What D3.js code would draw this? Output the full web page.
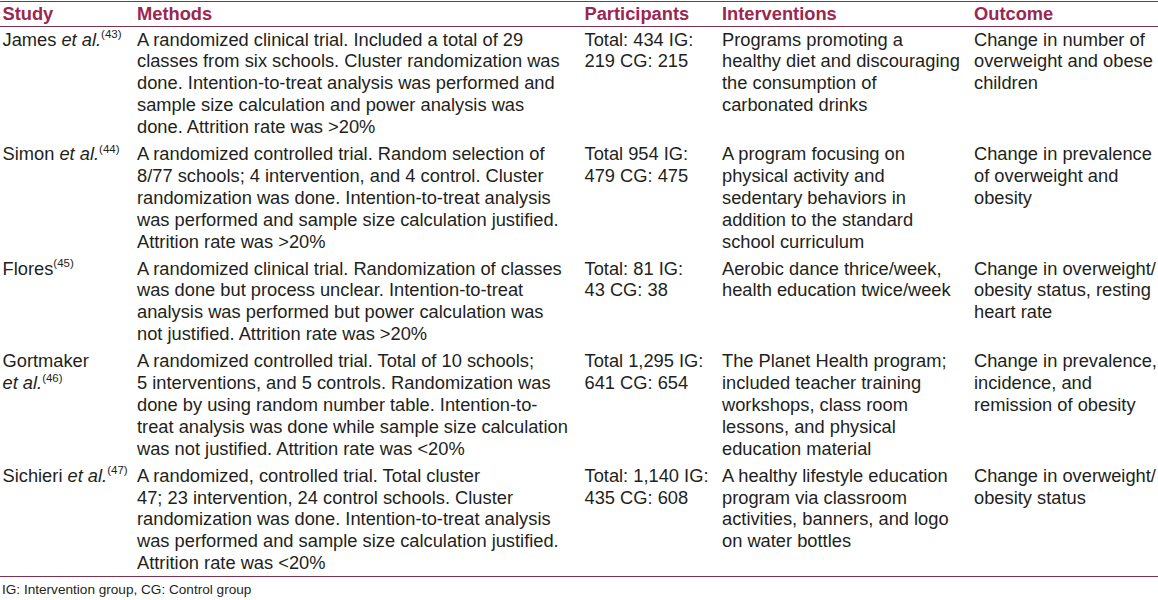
<!DOCTYPE html>
<html>
<head>
<meta charset="utf-8">
<script src="https://cdn.jsdelivr.net/npm/d3@7"></script>
<style>
  html, body { margin: 0; padding: 0; background: #ffffff; }
  svg { display: block; }
  text { font-family: "Liberation Sans", Arial, Helvetica, sans-serif; }
</style>
</head>
<body>
<svg id="chart" width="1158" height="600"></svg>
<script>
// ---- data ----
const headers = ["Study", "Methods", "Participants", "Interventions", "Outcome"];

// Study cell: name, whether "et al." follows, reference number, and whether "et al." wraps
const studyNames = ["James", "Simon", "Flores", "Gortmaker", "Sichieri"];
const studyEtAl = [true, true, false, true, true];
const studyRefs = ["43", "44", "45", "46", "47"];
const studyWrap = [false, false, false, true, false];

const methods = [
  ["A randomized clinical trial. Included a total of 29",
   "classes from six schools. Cluster randomization was",
   "done. Intention-to-treat analysis was performed and",
   "sample size calculation and power analysis was",
   "done. Attrition rate was >20%"],
  ["A randomized controlled trial. Random selection of",
   "8/77 schools; 4 intervention, and 4 control. Cluster",
   "randomization was done. Intention-to-treat analysis",
   "was performed and sample size calculation justified.",
   "Attrition rate was >20%"],
  ["A randomized clinical trial. Randomization of classes",
   "was done but process unclear. Intention-to-treat",
   "analysis was performed but power calculation was",
   "not justified. Attrition rate was >20%"],
  ["A randomized controlled trial. Total of 10 schools;",
   "5 interventions, and 5 controls. Randomization was",
   "done by using random number table. Intention-to-",
   "treat analysis was done while sample size calculation",
   "was not justified. Attrition rate was <20%"],
  ["A randomized, controlled trial. Total cluster",
   "47; 23 intervention, 24 control schools. Cluster",
   "randomization was done. Intention-to-treat analysis",
   "was performed and sample size calculation justified.",
   "Attrition rate was <20%"]
];

const participants = [
  ["Total: 434 IG:", "219 CG: 215"],
  ["Total 954 IG:", "479 CG: 475"],
  ["Total: 81 IG:", "43 CG: 38"],
  ["Total 1,295 IG:", "641 CG: 654"],
  ["Total: 1,140 IG:", "435 CG: 608"]
];

const interventions = [
  ["Programs promoting a", "healthy diet and discouraging", "the consumption of", "carbonated drinks"],
  ["A program focusing on", "physical activity and", "sedentary behaviors in", "addition to the standard", "school curriculum"],
  ["Aerobic dance thrice/week,", "health education twice/week"],
  ["The Planet Health program;", "included teacher training", "workshops, class room", "lessons, and physical", "education material"],
  ["A healthy lifestyle education", "program via classroom", "activities, banners, and logo", "on water bottles"]
];

const outcomes = [
  ["Change in number of", "overweight and obese", "children"],
  ["Change in prevalence", "of overweight and", "obesity"],
  ["Change in overweight/", "obesity status, resting", "heart rate"],
  ["Change in prevalence,", "incidence, and", "remission of obesity"],
  ["Change in overweight/", "obesity status"]
];

const footnote = "IG: Intervention group, CG: Control group";

// ---- layout ----
const W = 1158, H = 600;
const colStarts = [2.5, 137, 584.5, 722, 974];
const fontSize = 18.3;
const lineH = 21.9;
const rowExtra = 5;
const firstBaseline = 45.5;
const headerBaseline = 19.5;
const topRule = 1.5, headerRule = 26.5, bottomRule = 576.5;
const headColor = "#9b2650";
const ruleColor = "#84304f";
const textColor = "#231f20";

const svg = d3.select("#chart");
svg.append("rect").attr("width", W).attr("height", H).attr("fill", "#fff");

const x = d3.scaleOrdinal().domain(headers).range(colStarts);

// study cells as line arrays of segments
const studyCells = studyNames.map((n, i) => {
  const etal = studyEtAl[i] ? [{t: "et al.", it: true}] : [];
  const ref = [{t: "(" + studyRefs[i] + ")", sup: true}];
  if (studyWrap[i]) return [[{t: n}], etal.concat(ref)];
  return [[{t: n + (studyEtAl[i] ? " " : "")}].concat(etal, ref)];
});

const rows = studyNames.map((_, i) => ({
  cells: [
    studyCells[i],
    methods[i].map(s => [{t: s}]),
    participants[i].map(s => [{t: s}]),
    interventions[i].map(s => [{t: s}]),
    outcomes[i].map(s => [{t: s}])
  ]
}));
rows.forEach(r => r.n = d3.max(r.cells, c => c.length));

// cumulative line offsets
let acc = 0;
rows.forEach((r, i) => { r.startLine = acc; r.idx = i; acc += r.n; });

const yLine = d3.scaleLinear().domain([0, 1]).range([firstBaseline, firstBaseline + lineH]);
const rowY = (r, li) => yLine(r.startLine + li) + r.idx * rowExtra;

// rules
const rules = [topRule, headerRule, bottomRule];
svg.selectAll("line.rule").data(rules).join("line")
  .attr("class", "rule")
  .attr("x1", 0).attr("x2", W)
  .attr("y1", d => d).attr("y2", d => d)
  .attr("stroke", ruleColor).attr("stroke-width", 1.2);

// headers
svg.selectAll("text.head").data(headers).join("text")
  .attr("class", "head")
  .attr("x", d => x(d)).attr("y", headerBaseline)
  .attr("font-size", fontSize).attr("font-weight", "bold")
  .attr("fill", headColor)
  .text(d => d);

// body
const gRows = svg.selectAll("g.row").data(rows).join("g").attr("class", "row");
gRows.each(function(r) {
  const g = d3.select(this);
  r.cells.forEach((lines, ci) => {
    lines.forEach((segs, li) => {
      const t = g.append("text")
        .attr("x", x(headers[ci]))
        .attr("y", rowY(r, li))
        .attr("font-size", fontSize)
        .attr("fill", textColor);
      segs.forEach(s => {
        const ts = t.append("tspan").text(s.t);
        if (s.it) ts.attr("font-style", "italic");
        if (s.sup) ts.attr("font-size", 11.5).attr("dy", -7.5);
      });
    });
  });
});

// footnote
svg.append("text")
  .attr("x", 2).attr("y", 594)
  .attr("font-size", 13.6)
  .attr("fill", textColor)
  .text(footnote);
</script>
</body>
</html>
